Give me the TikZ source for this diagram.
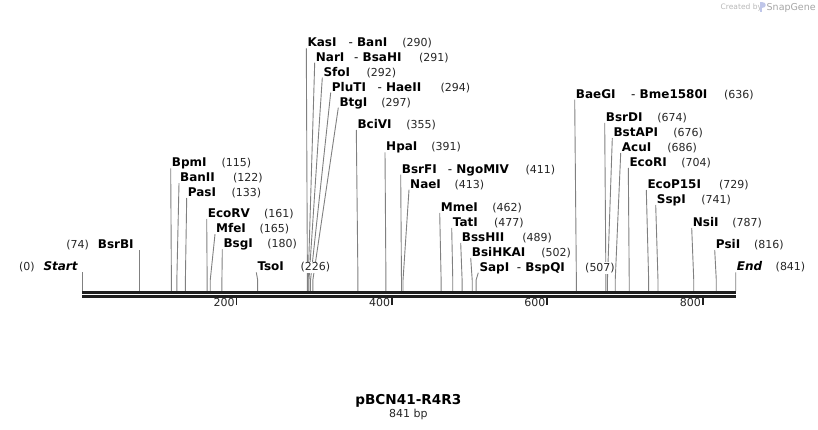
\documentclass[tikz,border=0pt]{standalone}
\usepackage{fontspec}
\setmainfont{DejaVu Sans}
\usetikzlibrary{backgrounds}
\tikzset{
  ename/.style={anchor=base west, inner xsep=0pt, inner ysep=1pt, fill=white,
    font=\bfseries\fontsize{12}{12}\selectfont},
  enum/.style={anchor=base west, inner xsep=0.5pt, inner ysep=1pt, fill=white,
    text=black!85, font=\fontsize{11}{11}\selectfont},
  cutline/.style={draw=black!50, line width=0.9pt},
  backbone/.style={fill=black!88, draw=none},
  ticklab/.style={anchor=base east, inner sep=0pt, text=black!85, font=\fontsize{11}{11}\selectfont},
}
% #1 label x, #2 label centre y, #3 name, #4 number x, #5 bp
\newcommand\enzsite[5]{%
  \pgfmathsetmacro\sx{82+0.7773*#5}%
  \node[ename] (n#5) at (#1,#2+4.2) {#3};
  \node[enum] (m#5) at (#4,#2+4.2) {(#5)};
  \coordinate (k#5) at (\sx,280);
  \coordinate (s#5) at (\sx,291);
  \begin{scope}[on background layer]
    \draw[cutline] ([xshift=-1pt,yshift=-1.5pt]n#5.base west) -- (k#5) -- (s#5);
  \end{scope}}
% #1 bp, #2 hyphen x, #3 centre y, #4 second name
\newcommand\enzpair[4]{%
  \node[ename] (p#1) at (#2,#3+4.2) {{\mdseries-} #4};}
\begin{document}
\begin{tikzpicture}[x=1pt,y=-1pt]
\useasboundingbox (0,0) rectangle (818,430);
\begin{scope}[on background layer]
  \fill[white] (0,0) rectangle (818,430);
\end{scope}

% backbone
\fill[backbone] (82,291) rectangle (735.7,293.7);
\fill[backbone] (82,295) rectangle (735.7,297.7);
\foreach \t in {200,400,600,800}{
  \pgfmathsetmacro\tx{82+0.7773*\t-1}
  \fill[black!88] (\tx-0.9,297.7) rectangle (\tx+0.9,304.5);
  \node[ticklab] (tick\t) at (\tx-1.7,306.7) {\t};
}

% Start
\node[ename, font=\bfseries\itshape\fontsize{12}{12}\selectfont] (n0) at (43.3,270.9) {Start};
\node[enum] (m0) at (18.3,270.9) {(0)};
\coordinate (s0) at (82.3,291);
\coordinate (t0) at ([yshift=-1.5pt]n0.base east);
\begin{scope}[on background layer]
  \draw[cutline] (t0 -| s0) -- (s0);
\end{scope}

% BsrBI
\node[ename] (n74) at (97.7,248.5) {BsrBI};
\node[enum] (m74) at (65.7,248.5) {(74)};
\coordinate (s74) at (139.4,291);
\coordinate (t74) at ([yshift=-1.5pt]n74.base east);
\begin{scope}[on background layer]
  \draw[cutline] (t74 -| s74) -- (s74);
\end{scope}

\enzsite{171.7}{162.7}{BpmI}{221}{115}
\enzsite{180}{177.5}{BanII}{232.3}{122}
\enzsite{187.7}{192.3}{PasI}{231}{133}
\enzsite{207.7}{213.3}{EcoRV}{263.3}{161}
\enzsite{216}{228.5}{MfeI}{259}{165}
\enzsite{223.3}{243.7}{BsgI}{266.7}{180}
\enzsite{257.3}{266.7}{TsoI}{300}{226}
\enzsite{307.3}{42.7}{KasI}{401.7}{290}
\enzpair{290}{348.3}{42.7}{BanI}
\enzsite{315.7}{57}{NarI}{418.3}{291}
\enzpair{291}{354}{57}{BsaHI}
\enzsite{323.3}{72}{SfoI}{366}{292}
\enzsite{331.7}{87}{PluTI}{440}{294}
\enzpair{294}{377.3}{87}{HaeII}
\enzsite{339.3}{102}{BtgI}{380.7}{297}
\enzsite{357.3}{124.3}{BciVI}{405.7}{355}
\enzsite{386}{146.7}{HpaI}{430.7}{391}
\enzsite{401.7}{169}{BsrFI}{525}{411}
\enzpair{411}{447.7}{169}{NgoMIV}
\enzsite{410}{184}{NaeI}{454}{413}
\enzsite{440.7}{207.3}{MmeI}{491.7}{462}
\enzsite{452.7}{222.3}{TatI}{493.3}{477}
\enzsite{461.7}{237.3}{BssHII}{521.7}{489}
\enzsite{471.7}{252.3}{BsiHKAI}{540.7}{502}
\enzsite{479.3}{267}{SapI}{584.5}{507}
\enzpair{507}{516.7}{267}{BspQI}
\enzsite{575.7}{94}{BaeGI}{723.3}{636}
\enzpair{636}{631}{94}{Bme1580I}
\enzsite{605.7}{117.3}{BsrDI}{656.7}{674}
\enzsite{613.3}{132.3}{BstAPI}{672.7}{676}
\enzsite{621.7}{147.3}{AcuI}{666.7}{686}
\enzsite{629.3}{162.3}{EcoRI}{680.7}{704}
\enzsite{647.3}{184.3}{EcoP15I}{718.3}{729}
\enzsite{656.7}{199.3}{SspI}{700.7}{741}
\enzsite{692.7}{222.3}{NsiI}{731.7}{787}
\enzsite{715.7}{244.3}{PsiI}{753.3}{816}
\enzsite{736.7}{266.7}{\itshape End}{775}{841}

% title
\node[font=\bfseries\fontsize{13.6}{13.6}\selectfont, inner sep=0pt] (title) at (408.3,400.5) {pBCN41-R4R3};
\node[font=\fontsize{11}{11}\selectfont, text=black!85, inner sep=0pt] (len) at (408.3,414.8) {841 bp};

% watermark
\node[font=\fontsize{7.5}{7.5}\selectfont, text=black!28, anchor=west, inner sep=0pt] (wm1) at (720.5,7.5) {Created by};
\fill[cyan!35!blue!25] (760.2,2.5) rectangle (762.2,12.5);
\fill[cyan!35!blue!25] (762.2,2.5) .. controls (766.5,2.5) and (766.5,8.5) .. (762.2,8.5) -- cycle;
\node[font=\fontsize{9.5}{9.5}\selectfont, text=black!35, anchor=west, inner sep=0pt] (wm2) at (766.5,7.5) {SnapGene};
\end{tikzpicture}
\end{document}
